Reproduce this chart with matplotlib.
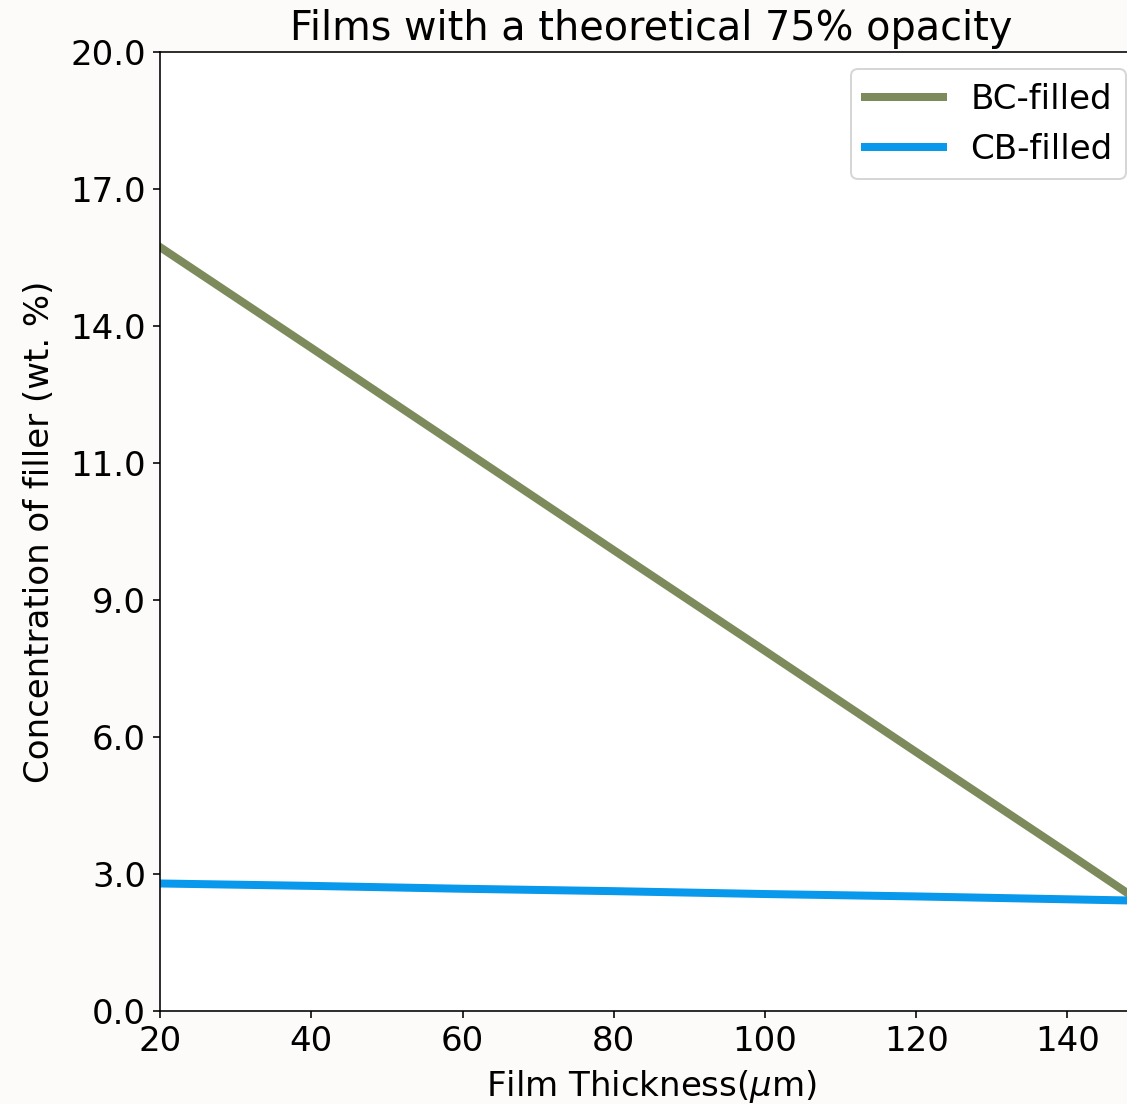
import numpy as np
import matplotlib
matplotlib.use("Agg")
import matplotlib.pyplot as plt

# values
thickness = [20, 40, 60, 80, 100, 120, 140, 150]
bc_filled = [15.93, 13.83, 11.72, 9.61, 7.51, 5.40, 3.30, 2.24]
cb_filled = [2.66, 2.61, 2.55, 2.50, 2.44, 2.39, 2.33, 2.30]

ytick_pos = np.linspace(0, 20, 8)
ytick_labels = ["%.1f" % round(v) for v in ytick_pos]

plt.rcParams['font.size'] = 17

fig = plt.figure(figsize=(7.827, 7.667), dpi=144, facecolor='#fcfbf9')
# axes runs a bit past the right edge, like the cropped original
ax = fig.add_axes([0.142, 0.0842, 0.8722, 0.8687])
ax.set_facecolor('white')

ax.plot(thickness, bc_filled, color='#7d8b5c', lw=4, label='BC-filled')
ax.plot(thickness, cb_filled, color='#0898ec', lw=4, label='CB-filled')

ax.set_xlim(20, 150)
ax.set_ylim(0, 20)
ax.set_xticks([20, 40, 60, 80, 100, 120, 140])
ax.set_yticks(ytick_pos)
ax.set_yticklabels(ytick_labels)

ax.set_title('Films with a theoretical 75% opacity', fontsize=19.9)
ax.set_xlabel(r'Film Thickness($\mu$m)', labelpad=5)
ax.set_ylabel('Concentration of filler (wt. %)', labelpad=7)
ax.legend(loc='upper right', handlelength=2.3)

fig.savefig('out.png', dpi=144, facecolor=fig.get_facecolor())
